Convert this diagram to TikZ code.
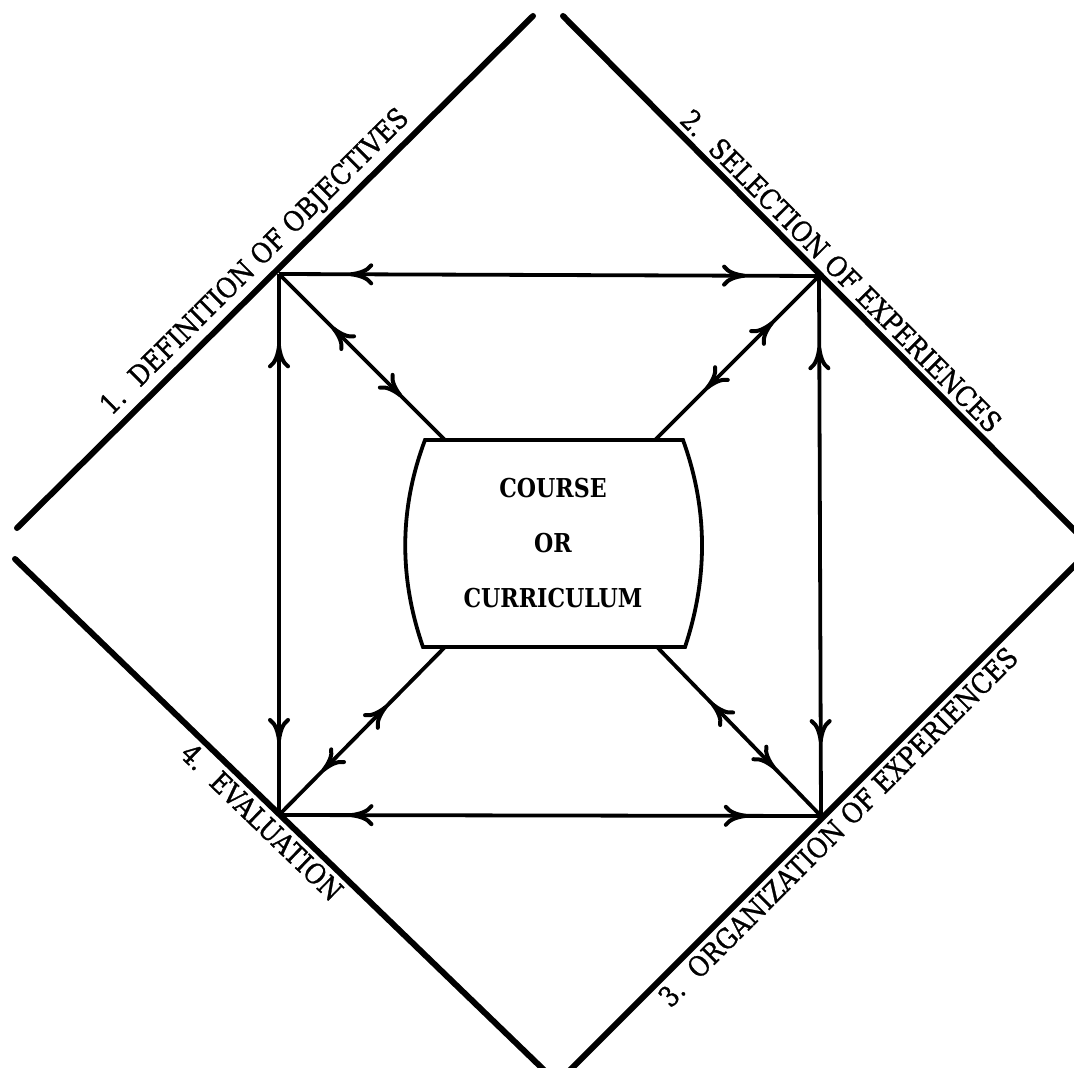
\documentclass[tikz,border=0pt]{standalone}
\usepackage{fontspec}
\usetikzlibrary{arrows.meta,decorations.markings}
\newfontfamily\slabfont[FakeStretch=0.88,FakeBold=1]{DejaVu Serif}
\newfontfamily\slabbold[FakeStretch=0.85]{DejaVu Serif Bold}
\begin{document}
\begin{tikzpicture}[x=0.5pt,y=-0.5pt,
  frame/.style={line width=3pt, line cap=round},
  link/.style={line width=1.9pt},
  lab/.style={font=\slabfont\fontsize{14}{16}\selectfont, sloped, inner sep=0pt},
  headtip/.tip={Computer Modern Rightarrow[length=12pt,width=11pt,line width=2pt]},
  twoway/.style 2 args={link, postaction={decorate}, decoration={markings,
     mark=at position #1 with {\arrowreversed{headtip}},
     mark=at position #2 with {\arrow{headtip}}}}]
\fill[white] (0,0) rectangle (1074,1068);
\useasboundingbox (0,0) rectangle (1074,1068);
% diamond line ends
\coordinate (tl1) at (17,528);  \coordinate (tl2) at (533,16);
\coordinate (tr1) at (563,16);  \coordinate (tr2) at (1076,532);
\coordinate (bl1) at (15,559);  \coordinate (bl2) at (544,1070);
\coordinate (br1) at (570,1070); \coordinate (br2) at (1076,564);
% inner square corners
\coordinate (A) at (279,274);
\coordinate (B) at (819,276);
\coordinate (C) at (821,816);
\coordinate (D) at (279,815);
% box
\coordinate (bTL) at (425,440); \coordinate (bTR) at (683,440);
\coordinate (bBR) at (685,647); \coordinate (bBL) at (423,647);
\coordinate (cTL) at (445,440); \coordinate (cTR) at (655,440);
\coordinate (cBR) at (657,647); \coordinate (cBL) at (445,647);

\draw[frame] (tl1) -- (tl2) node[lab, pos=0.49, above=2pt] (l1) {1.\hspace{0.6em}DEFINITION OF OBJECTIVES};
\draw[frame] (tr1) -- (tr2) node[lab, pos=0.518, above=2pt] (l2) {2.\hspace{0.6em}SELECTION OF EXPERIENCES};
\draw[frame] (br1) -- (br2) node[lab, pos=0.505, below=2pt] (l3) {3.\hspace{0.6em}ORGANIZATION OF EXPERIENCES};
\draw[frame] (bl1) -- (bl2) node[lab, pos=0.49, below=2pt] (l4) {4.\hspace{0.6em}EVALUATION};

\draw[link] (bTL) -- (bTR) .. controls (708,509) and (708,578) .. (bBR) -- (bBL) .. controls (399,578) and (399,509) .. cycle;
\node[font=\slabbold\fontsize{13}{27.5}\selectfont, align=center] (box) at (553,543) {COURSE\\OR\\CURRICULUM};

\draw[twoway={0.13}{0.865}] (A) -- (B);
\draw[twoway={0.13}{0.865}] (A) -- (D);
\draw[twoway={0.13}{0.865}] (B) -- (C);
\draw[twoway={0.13}{0.865}] (D) -- (C);
\draw[twoway={0.32}{0.74}] (A) -- (cTL);
\draw[twoway={0.28}{0.69}] (B) -- (cTR);
\draw[twoway={0.28}{0.67}] (C) -- (cBR);
\draw[twoway={0.26}{0.65}] (D) -- (cBL);
\end{tikzpicture}
\end{document}
